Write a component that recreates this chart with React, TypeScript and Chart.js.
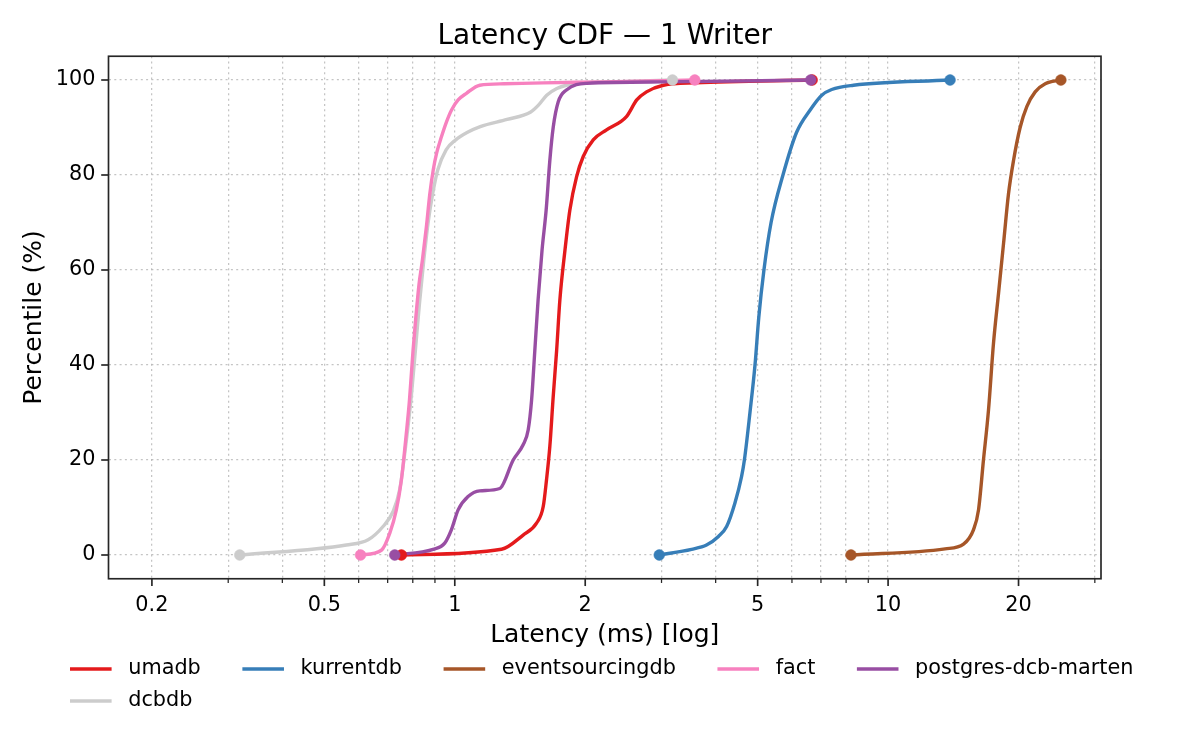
import { useEffect, useRef } from 'react';
import { Chart, registerables } from 'chart.js';

Chart.register(...registerables);

// ---------- data ----------
const SERIES_NAMES = ['umadb', 'kurrentdb', 'eventsourcingdb', 'fact', 'postgres-dcb-marten', 'dcbdb'];
const SERIES_COLORS = ['#e41a1c', '#377eb8', '#a65628', '#f781bf', '#984ea3', '#cccccc'];

const UMADB_MS = [0.753, 1.282, 1.438, 1.544, 1.6, 1.628, 1.657, 1.687, 1.718, 1.748, 1.795, 1.843, 1.91, 1.979, 2.087, 2.24, 2.49, 2.63, 2.77, 3.03, 3.6, 6.68];
const UMADB_PCT = [0, 1.2, 4.2, 6.7, 10.2, 15.8, 22.8, 33.3, 43, 53.7, 64, 72.6, 79.6, 83.9, 87.4, 89.5, 92.3, 95.8, 97.5, 98.9, 99.4, 100];

const KURRENTDB_MS = [2.964, 3.52, 3.81, 4.06, 4.24, 4.43, 4.59, 4.66, 4.8, 4.93, 5.03, 5.17, 5.37, 5.72, 6.15, 6.61, 7.03, 7.41, 8.32, 13.9];
const KURRENTDB_PCT = [0, 1.2, 2.1, 3.9, 6, 10.9, 16.5, 20, 30, 40, 50, 60, 70, 80, 89, 93.7, 96.8, 98, 98.9, 100];

const ESDB_MS = [8.21, 13.54, 14.93, 15.74, 16.17, 16.6, 17.05, 17.51, 17.98, 18.47, 18.96, 19.47, 20.17, 20.9, 21.85, 23.05, 25.05];
const ESDB_PCT = [0, 1.3, 2.3, 5.3, 9.5, 20, 30.5, 44.6, 55, 65.6, 76, 83, 90, 94.4, 97.5, 99.2, 100];

const FACT_MS = [0.606, 0.677, 0.708, 0.733, 0.753, 0.773, 0.786, 0.801, 0.813, 0.827, 0.842, 0.86, 0.876, 0.892, 0.908, 0.932, 0.957, 0.983, 1.018, 1.064, 1.142, 1.3, 1.6, 2.2, 3.58];
const FACT_PCT = [0, 1, 4.6, 9.5, 15.8, 25.6, 32.6, 43, 50, 57, 62.1, 69.1, 76.1, 81.1, 84.6, 88.1, 91.2, 93.7, 95.8, 97.2, 98.9, 99.2, 99.4, 99.6, 100];

const MARTEN_MS = [0.727, 0.891, 0.948, 0.982, 1.018, 1.073, 1.142, 1.27, 1.364, 1.438, 1.477, 1.504, 1.53, 1.557, 1.59, 1.625, 1.657, 1.687, 1.733, 1.81, 2.015, 3.0, 6.63];
const MARTEN_PCT = [0, 1.2, 2.5, 5.3, 9.5, 12.3, 13.5, 14, 20, 23.2, 26.3, 32.6, 43, 53.7, 64.2, 72.6, 83, 90, 95.4, 97.9, 99.3, 99.6, 100];

const DCBDB_MS = [0.319, 0.562, 0.631, 0.683, 0.72, 0.746, 0.768, 0.792, 0.811, 0.829, 0.848, 0.868, 0.889, 0.913, 0.955, 1.005, 1.07, 1.145, 1.32, 1.494, 1.56, 1.63, 1.72, 1.81, 2.015, 2.5, 3.18];
const DCBDB_PCT = [0, 2.1, 3.2, 6, 9.1, 13.7, 22, 32.6, 43, 53, 62, 70, 76, 81, 85.3, 87.4, 89, 90.2, 91.7, 93.2, 94.7, 96.8, 98.2, 98.9, 99.4, 99.7, 100];

const SERIES_MS = [UMADB_MS, KURRENTDB_MS, ESDB_MS, FACT_MS, MARTEN_MS, DCBDB_MS];
const SERIES_PCT = [UMADB_PCT, KURRENTDB_PCT, ESDB_PCT, FACT_PCT, MARTEN_PCT, DCBDB_PCT];

const X_TICKS = [0.2, 0.3, 0.4, 0.5, 0.6, 0.7, 0.8, 0.9, 1, 2, 3, 4, 5, 6, 7, 8, 9, 10, 20, 30];
const X_TICK_LABELS = ['0.2', '0.5', '1', '2', '5', '10', '20'];
const Y_TICKS = [0, 20, 40, 60, 80, 100];

const X_MIN = 0.1588;
const X_MAX = 31.0;
const Y_MIN = -5;
const Y_MAX = 105;

// drawing rank: higher is drawn first (below)
const LINE_ORDER = [16, 15, 14, 13, 12, 17];
const MARKER_ORDER = [6, 5, 4, 3, 2, 7];

const FONT = '"DejaVu Sans", sans-serif';
const INK = '#262626';

const fmt = (v: number) => String(Number(v.toPrecision(6)));

const frameTicksPlugin = {
  id: 'frameTicks',
  afterDraw(chart: any) {
    const { ctx, chartArea: a, scales } = chart;
    ctx.save();
    ctx.strokeStyle = INK;
    ctx.lineCap = 'butt';
    const xs = scales.x;
    xs.ticks.forEach((t: any) => {
      const px = xs.getPixelForValue(t.value);
      const major = X_TICK_LABELS.includes(fmt(t.value));
      ctx.lineWidth = major ? 1.67 : 1.25;
      ctx.beginPath();
      ctx.moveTo(px, a.bottom);
      ctx.lineTo(px, a.bottom + (major ? 7.3 : 4.2));
      ctx.stroke();
    });
    const ys = scales.y;
    ys.ticks.forEach((t: any) => {
      const py = ys.getPixelForValue(t.value);
      ctx.lineWidth = 1.67;
      ctx.beginPath();
      ctx.moveTo(a.left, py);
      ctx.lineTo(a.left - 7.3, py);
      ctx.stroke();
    });
    ctx.lineWidth = 1.67;
    ctx.strokeRect(a.left, a.top, a.right - a.left, a.bottom - a.top);
    ctx.restore();
  },
};

const legendPlugin = {
  id: 'mplLegend',
  afterDraw(chart: any) {
    const ctx = chart.ctx;
    ctx.save();
    const fontPx = 20.8;
    ctx.font = `${fontPx}px ${FONT}`;
    const handle = 41.6;
    const textPad = 16.6;
    const colSpace = 41.6;
    const ncol = 5;
    const colW: number[] = [];
    for (let c = 0; c < ncol; c++) {
      let w = 0;
      SERIES_NAMES.forEach((n, i) => {
        if (i % ncol === c) w = Math.max(w, ctx.measureText(n).width);
      });
      colW.push(w);
    }
    const colX: number[] = [];
    let x = 70;
    for (let c = 0; c < ncol; c++) {
      colX.push(x);
      x += handle + textPad + colW[c] + colSpace;
    }
    SERIES_NAMES.forEach((name, i) => {
      const c = i % ncol;
      const r = Math.floor(i / ncol);
      const y = 669 + r * 32;
      ctx.strokeStyle = SERIES_COLORS[i];
      ctx.lineWidth = 3.4;
      ctx.beginPath();
      ctx.moveTo(colX[c], y);
      ctx.lineTo(colX[c] + handle, y);
      ctx.stroke();
      ctx.fillStyle = '#000';
      ctx.textBaseline = 'middle';
      ctx.textAlign = 'left';
      ctx.fillText(name, colX[c] + handle + textPad, y);
    });
    ctx.restore();
  },
};

export default function App() {
  const canvasRef = useRef<HTMLCanvasElement | null>(null);

  useEffect(() => {
    document.body.style.margin = '0';
    const canvas = canvasRef.current;
    if (!canvas) return;

    const lineSets = SERIES_NAMES.map((name, i) => ({
      type: 'line' as const,
      label: name,
      data: SERIES_MS[i].map((x, j) => ({ x, y: SERIES_PCT[i][j] })),
      borderColor: SERIES_COLORS[i],
      backgroundColor: SERIES_COLORS[i],
      borderWidth: 3.4,
      pointRadius: 0,
      pointHoverRadius: 0,
      cubicInterpolationMode: 'monotone' as const,
      fill: false,
      order: LINE_ORDER[i],
    }));
    const markerSets = SERIES_NAMES.map((name, i) => {
      const xsArr = SERIES_MS[i];
      const ysArr = SERIES_PCT[i];
      const n = xsArr.length - 1;
      return {
        type: 'line' as const,
        label: name + ' ends',
        data: [
          { x: xsArr[0], y: ysArr[0] },
          { x: xsArr[n], y: ysArr[n] },
        ],
        showLine: false,
        borderColor: SERIES_COLORS[i],
        backgroundColor: SERIES_COLORS[i],
        pointBackgroundColor: SERIES_COLORS[i],
        pointBorderColor: SERIES_COLORS[i],
        pointBorderWidth: 0.5,
        pointRadius: 5.4,
        pointHoverRadius: 5.4,
        order: MARKER_ORDER[i],
      };
    });

    const gridColor = 'rgba(176,176,176,0.75)';

    const chart = new Chart(canvas, {
      type: 'line',
      data: { datasets: [...lineSets, ...markerSets] as any },
      plugins: [frameTicksPlugin, legendPlugin],
      options: {
        responsive: false,
        devicePixelRatio: 1,
        animation: false,
        events: [],
        layout: { padding: { left: 0, right: 99, top: 0, bottom: 100 } },
        plugins: {
          legend: { display: false },
          tooltip: { enabled: false },
          title: {
            display: true,
            text: 'Latency CDF — 1 Writer',
            fullSize: false,
            color: '#000',
            font: { family: FONT, size: 28, weight: 'normal' },
            padding: { top: 19.5, bottom: 3.15 },
          },
        },
        scales: {
          x: {
            type: 'logarithmic',
            position: 'bottom',
            min: X_MIN,
            max: X_MAX,
            afterBuildTicks: (scale: any) => {
              scale.ticks = X_TICKS.map((v) => ({ value: v, major: X_TICK_LABELS.includes(fmt(v)) }));
            },
            afterFit: (scale: any) => {
              scale.height = 71.25;
            },
            ticks: {
              autoSkip: false,
              maxRotation: 0,
              minRotation: 0,
              padding: 14,
              color: '#000',
              font: { family: FONT, size: 20.8 },
              callback: (v: any) => {
                const s = fmt(Number(v));
                return X_TICK_LABELS.includes(s) ? s : '';
              },
            },
            grid: { color: gridColor, lineWidth: 1.25, drawTicks: false },
            border: { display: false, dash: [2, 3.3] },
            title: {
              display: true,
              text: 'Latency (ms) [log]',
              color: '#000',
              font: { family: FONT, size: 25 },
              padding: { top: 0, bottom: 0 },
            },
          },
          y: {
            type: 'linear',
            position: 'left',
            min: Y_MIN,
            max: Y_MAX,
            afterBuildTicks: (scale: any) => {
              scale.ticks = Y_TICKS.map((v) => ({ value: v }));
            },
            afterFit: (scale: any) => {
              scale.width = 108.5;
            },
            ticks: {
              autoSkip: false,
              padding: 13,
              color: '#000',
              font: { family: FONT, size: 20.8 },
              callback: (v: any) => String(v),
            },
            grid: { color: gridColor, lineWidth: 1.25, drawTicks: false },
            border: { display: false, dash: [2, 3.3] },
            title: {
              display: true,
              text: 'Percentile (%)',
              color: '#000',
              font: { family: FONT, size: 25 },
              padding: { top: 19.5, bottom: 0 },
            },
          },
        },
      } as any,
    });

    return () => {
      chart.destroy();
    };
  }, []);

  return (
    <div style={{ width: 1200, height: 750, background: '#fff' }}>
      <canvas ref={canvasRef} width={1200} height={750} style={{ display: 'block', width: 1200, height: 750 }} />
    </div>
  );
}
